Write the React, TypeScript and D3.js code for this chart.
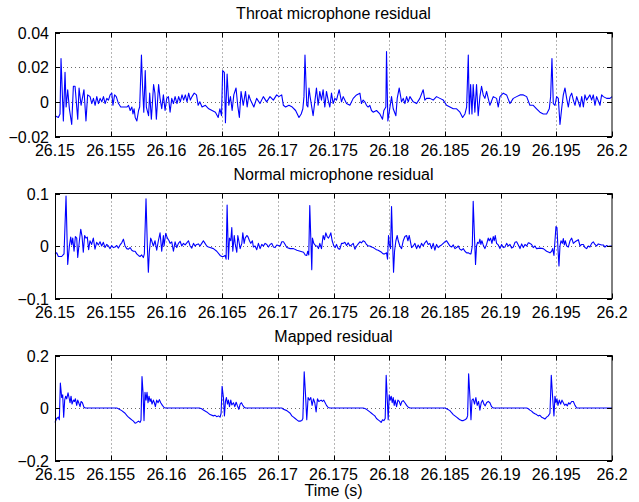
import * as d3 from "d3";

type Pt = [number, number]; // [ms after 26.15 s, residual]

const T0 = 26.15;

const xTicks = [26.15, 26.155, 26.16, 26.165, 26.17, 26.175, 26.18, 26.185, 26.19, 26.195, 26.2];
const xTickLabels = ["26.15", "26.155", "26.16", "26.165", "26.17", "26.175", "26.18", "26.185", "26.19", "26.195", "26.2"];

const titles = ["Throat microphone residual", "Normal microphone residual", "Mapped residual"];

const throatTicks = [-0.02, 0, 0.02, 0.04];
const throatTickLabels = ["\u22120.02", "0", "0.02", "0.04"];
const normalTicks = [-0.1, 0, 0.1];
const normalTickLabels = ["\u22120.1", "0", "0.1"];
const mappedTicks = [-0.2, 0, 0.2];
const mappedTickLabels = ["\u22120.2", "0", "0.2"];

const throat: Pt[] = [
  [0,-0.008],[0.3,-0.009],[0.45,-0.007],[0.54,0.025],[0.75,-0.011],[0.9,0.017],[1.0,-0.003],[1.14,0.007],[1.29,-0.004],[1.5,-0.013],
  [1.65,0.009],[1.8,0.009],[2.04,-0.01],[2.16,0.008],[2.34,-0.002],[2.6,0.007],[2.78,-0.011],[2.93,0.004],[3.15,0.003],[3.3,-0.001],
  [3.45,0.002],[3.6,-0.002],[3.75,0.003],[3.9,-0.001],[4.05,0.002],[4.2,0],[4.35,0.003],[4.5,-0.001],[4.65,0.002],[4.8,0.001],
  [4.95,0.004],[5.1,0.005],[5.2,-0.002],[5.35,0.004],[5.5,0.003],[5.7,-0.001],[5.9,-0.003],[6.2,-0.003],[6.45,-0.003],[6.6,-0.002],
  [6.75,-0.005],[6.9,-0.003],[7.0,-0.007],[7.1,-0.004],[7.2,-0.009],[7.35,-0.011],[7.5,-0.005],[7.6,-0.003],[7.76,0.027],[7.85,0.01],
  [7.97,-0.006],[8.1,0.018],[8.2,-0.003],[8.4,-0.008],[8.5,0.005],[8.65,-0.01],[8.85,0.01],[8.97,0.005],[9.1,-0.01],[9.3,0.01],
  [9.43,0.002],[9.58,-0.004],[9.73,0.004],[9.88,-0.005],[10.03,0.002],[10.18,0.003],[10.33,-0.006],[10.48,0.002],[10.63,-0.001],[10.78,0.003],
  [10.95,-0.001],[11.1,0.003],[11.25,0],[11.4,0.004],[11.55,0.001],[11.7,0.004],[11.85,0],[12.0,0.005],[12.15,0.001],[12.3,0.003],
  [12.5,0.005],[12.7,0.004],[12.85,-0.002],[13.0,0],[13.2,-0.003],[13.5,-0.002],[13.8,-0.004],[14.1,-0.005],[14.4,-0.006],[14.65,-0.009],
  [14.8,-0.004],[14.95,-0.008],[15.05,0.018],[15.2,0.017],[15.3,-0.012],[15.45,0.016],[15.6,-0.002],[15.75,0.003],[15.9,-0.005],[16.05,0.004],
  [16.25,0.008],[16.4,-0.002],[16.55,-0.009],[16.7,0.006],[16.9,-0.002],[17.1,0.006],[17.25,-0.003],[17.4,0.004],[17.55,0.001],[17.85,-0.003],
  [18.1,0.002],[18.4,-0.001],[18.7,0.003],[19.0,0],[19.3,0.003],[19.6,0.001],[19.9,0.004],[20.1,0.003],[20.35,0.004],[20.5,-0.002],
  [20.7,-0.003],[21.0,-0.002],[21.3,-0.003],[21.6,-0.005],[21.9,-0.009],[22.1,-0.007],[22.25,-0.004],[22.35,0.003],[22.44,0.027],[22.6,-0.002],
  [22.7,-0.003],[22.8,0.008],[22.9,0.003],[23.17,-0.008],[23.47,0.008],[23.62,-0.002],[23.77,0.006],[23.92,0.001],[24.07,0.007],[24.22,-0.003],
  [24.37,0.006],[24.52,0.001],[24.67,-0.003],[24.82,0.005],[24.97,-0.001],[25.12,0.002],[25.27,0.001],[25.51,0.007],[25.72,0],[25.87,0.003],
  [26.17,-0.001],[26.47,-0.002],[26.77,0.002],[27.07,0.004],[27.37,0.005],[27.51,-0.001],[27.66,0.001],[27.81,0],[27.96,-0.002],[28.11,-0.003],
  [28.26,-0.002],[28.41,-0.005],[28.56,-0.006],[28.86,-0.005],[29.16,-0.007],[29.4,-0.01],[29.52,-0.005],[29.7,-0.003],[29.76,0.029],[29.88,-0.011],
  [30.0,-0.006],[30.21,0.003],[30.36,-0.004],[30.6,-0.008],[30.72,0.002],[30.9,0.008],[31.11,0],[31.26,0.002],[31.41,-0.001],[31.56,0.003],
  [31.71,0],[31.86,0.003],[32.16,0],[32.46,-0.001],[32.75,0.002],[33.05,0.007],[33.2,0.001],[33.35,0.002],[33.65,0.002],[33.95,0.001],
  [34.25,0.003],[34.55,0.002],[34.85,0.001],[35.15,-0.002],[35.45,-0.003],[35.75,-0.004],[36.05,-0.004],[36.35,-0.006],[36.59,-0.009],[36.8,-0.007],
  [36.95,-0.003],[37.1,0.027],[37.19,-0.007],[37.31,0.01],[37.43,-0.007],[37.54,0.01],[37.69,-0.006],[37.84,0.01],[37.99,-0.008],[38.14,0.003],
  [38.29,0.009],[38.44,0.004],[38.59,0.002],[38.74,0.006],[39.04,-0.002],[39.34,0.003],[39.64,0.002],[39.79,-0.003],[39.94,0.003],[40.24,0.005],
  [40.54,0.004],[40.84,-0.001],[41.14,0.002],[41.44,0.003],[41.74,0.004],[42.04,0.004],[42.34,0.003],[42.63,-0.002],[42.93,-0.002],[43.23,-0.004],
  [43.53,-0.006],[43.83,-0.007],[44.13,-0.007],[44.37,-0.004],[44.49,0.003],[44.61,0.025],[44.73,-0.001],[44.88,-0.002],[45.03,0.003],[45.18,0.002],
  [45.33,-0.013],[45.48,-0.004],[45.63,0.004],[45.78,0.008],[45.93,0.002],[46.08,-0.003],[46.23,0.003],[46.38,0.005],[46.53,0.001],[46.68,-0.002],
  [46.83,0.003],[47.13,-0.003],[47.28,0.003],[47.43,-0.003],[47.57,0.004],[47.72,0.001],[48.02,0.004],[48.17,0.001],[48.32,0.004],[48.47,-0.002],
  [48.62,0.003],[48.92,-0.002],[49.07,0.004],[49.22,0.003],[49.52,0.002],[49.82,0.002],[50,0.003],
];

const normal: Pt[] = [
  [0,-0.015],[0.15,-0.013],[0.3,-0.02],[0.6,-0.02],[0.81,-0.015],[0.99,0.095],[1.14,-0.035],[1.29,0],[1.41,0.017],[1.5,0.002],
  [1.59,0.015],[1.71,-0.01],[1.83,0.018],[1.95,0.015],[2.04,-0.022],[2.19,0.01],[2.31,0.032],[2.43,0.018],[2.54,-0.012],[2.66,0.02],
  [2.78,0.015],[2.9,0.017],[3.02,-0.007],[3.14,0.01],[3.29,0.003],[3.44,0.015],[3.59,-0.006],[3.74,0.007],[3.89,0.002],[4.04,0.008],
  [4.19,0],[4.34,0.007],[4.49,-0.003],[4.64,0.003],[4.79,0],[4.94,-0.005],[5.09,0.001],[5.24,-0.003],[5.39,-0.002],[5.54,0.001],
  [5.69,-0.004],[5.84,0.002],[5.99,0.006],[6.14,0.013],[6.29,0],[6.44,-0.005],[6.59,-0.006],[6.74,-0.003],[6.89,-0.008],[7.04,-0.01],
  [7.19,-0.01],[7.34,-0.015],[7.49,-0.018],[7.63,-0.02],[7.78,-0.017],[7.93,-0.022],[8.02,-0.015],[8.17,0.09],[8.29,0],[8.38,-0.05],
  [8.47,-0.01],[8.59,0.015],[8.68,0.01],[8.83,0],[8.98,0.01],[9.13,-0.008],[9.28,0.01],[9.43,0.025],[9.52,0.005],[9.58,-0.01],
  [9.73,0.02],[9.79,0],[9.94,0.024],[10.09,0.015],[10.24,0.01],[10.33,0.005],[10.48,0.008],[10.63,-0.01],[10.78,0.008],[10.93,-0.003],
  [11.08,0.005],[11.23,0.009],[11.38,0],[11.53,0.005],[11.68,0.002],[11.83,0.006],[11.98,0.01],[12.13,0],[12.28,-0.004],[12.43,0.005],
  [12.57,0],[12.72,0.003],[12.87,0.004],[13.02,0],[13.17,0.005],[13.32,0.01],[13.47,0.005],[13.62,0],[13.77,-0.002],[13.92,-0.003],
  [14.22,-0.005],[14.52,-0.01],[14.82,-0.018],[14.97,-0.02],[15.12,-0.02],[15.27,-0.018],[15.36,-0.025],[15.45,0.078],[15.57,-0.025],[15.66,0.015],
  [15.78,0.01],[15.87,0.035],[15.96,-0.01],[16.09,0.02],[16.17,0.005],[16.32,-0.012],[16.41,0.02],[16.5,0.01],[16.62,-0.005],[16.77,0.005],
  [16.86,0.025],[16.98,0.005],[17.07,0.015],[17.22,0.02],[17.31,0.018],[17.46,0.01],[17.57,0.005],[17.72,0.01],[17.81,-0.002],[17.96,0],
  [18.11,-0.007],[18.26,0.005],[18.41,-0.005],[18.56,0.003],[18.71,0],[18.86,0.005],[19.01,0.003],[19.16,-0.002],[19.31,0.003],[19.46,0.005],
  [19.61,-0.002],[19.76,-0.003],[19.91,0.002],[20.21,0],[20.36,0.008],[20.51,0.008],[20.66,0.003],[20.81,-0.003],[21.11,-0.005],[21.41,-0.005],
  [21.71,-0.008],[22.01,-0.01],[22.31,-0.012],[22.46,-0.017],[22.6,-0.018],[22.69,-0.01],[22.78,-0.017],[22.87,0.077],[23.05,-0.045],[23.11,0.015],
  [23.23,0.005],[23.41,0],[23.53,0],[23.65,-0.005],[23.77,0.005],[23.92,-0.005],[24.07,0.02],[24.19,0.012],[24.31,0.025],[24.43,0.018],
  [24.55,0.015],[24.67,0.02],[24.76,0.025],[24.88,0.01],[25.03,0],[25.15,-0.003],[25.27,0.003],[25.42,-0.005],[25.57,-0.006],[25.72,0.005],
  [25.87,0.005],[26.02,0.007],[26.17,0.001],[26.32,0.006],[26.47,0],[26.62,0.002],[26.77,0.005],[26.92,-0.006],[27.07,0],[27.22,0.004],
  [27.37,0.008],[27.51,0.006],[27.66,0.01],[27.81,0.008],[27.96,0.003],[28.11,0],[28.26,0],[28.41,-0.002],[28.56,-0.003],[28.71,-0.005],
  [28.86,-0.007],[29.01,-0.008],[29.16,-0.01],[29.31,-0.012],[29.46,-0.015],[29.61,-0.015],[29.76,-0.013],[29.85,-0.025],[29.94,0.02],[30.0,0.005],
  [30.12,-0.005],[30.21,0.075],[30.3,0.01],[30.39,-0.05],[30.48,-0.01],[30.6,0.01],[30.72,0.02],[30.81,0.01],[30.96,0],[31.11,-0.005],
  [31.26,0.01],[31.41,0.018],[31.56,0.02],[31.68,0.01],[31.8,0.02],[31.92,0.007],[32.01,-0.003],[32.16,0],[32.31,0.005],[32.46,-0.005],
  [32.6,0.002],[32.75,-0.004],[32.9,0.005],[33.05,0],[33.2,0.006],[33.35,0.01],[33.5,0.003],[33.65,0.005],[33.8,-0.005],[33.95,0.005],
  [34.1,-0.008],[34.25,0.003],[34.4,-0.003],[34.55,0],[34.7,0.002],[34.85,0.005],[35.0,0.008],[35.15,0.01],[35.3,0.005],[35.45,0],
  [35.6,-0.002],[35.75,0.002],[35.9,-0.005],[36.05,-0.003],[36.2,0],[36.35,-0.006],[36.5,-0.008],[36.65,-0.005],[36.8,-0.01],[36.95,-0.013],
  [37.1,-0.013],[37.25,-0.015],[37.34,-0.015],[37.46,0],[37.54,0.085],[37.66,0.015],[37.75,-0.035],[37.84,0],[37.93,0.007],[38.05,0.005],
  [38.14,0.013],[38.23,0.003],[38.32,0.01],[38.44,0.002],[38.59,-0.005],[38.74,0.003],[38.89,0.015],[38.98,0.01],[39.1,0.015],[39.22,0.005],
  [39.34,0.018],[39.43,0.01],[39.52,0.02],[39.64,0.005],[39.79,0.002],[39.94,-0.005],[40.09,0.003],[40.24,-0.003],[40.39,-0.002],[40.54,0.005],
  [40.69,0],[40.84,0.003],[40.99,-0.004],[41.14,-0.002],[41.29,0.007],[41.44,0.008],[41.59,0.002],[41.74,-0.005],[41.89,0.004],[42.04,-0.003],
  [42.19,0.003],[42.34,0],[42.49,0.006],[42.63,0.005],[42.78,0.003],[42.93,-0.003],[43.08,0],[43.23,-0.005],[43.53,-0.004],[43.83,-0.005],
  [44.13,-0.01],[44.43,-0.013],[44.58,-0.01],[44.67,-0.005],[44.79,-0.018],[44.88,0.01],[44.97,0.037],[45.06,0.035],[45.15,-0.005],[45.24,-0.038],
  [45.33,0],[45.42,0.01],[45.54,0.005],[45.63,0.014],[45.72,0.002],[45.81,0.01],[45.93,0],[46.08,-0.002],[46.23,0.01],[46.38,0.015],
  [46.53,0.005],[46.68,0.008],[46.83,0.01],[46.98,0.012],[47.13,0],[47.28,0.003],[47.43,0.003],[47.57,-0.003],[47.72,-0.005],[47.87,0],
  [48.02,-0.002],[48.17,0.005],[48.32,0.008],[48.47,0.003],[48.62,0],[48.77,0.004],[48.92,0.003],[49.07,0.002],[49.22,0.002],[49.37,-0.002],
  [49.52,0.001],[49.67,-0.001],[49.82,0],[50,0],
];

const mapped: Pt[] = [
  [0,-0.055],[0.15,-0.04],[0.3,-0.035],[0.39,-0.045],[0.48,0.095],[0.6,0.04],[0.69,0.05],[0.78,-0.035],[0.87,0.03],[0.96,0.045],
  [1.05,0.035],[1.17,0.058],[1.26,0.04],[1.35,0.02],[1.44,0.045],[1.53,0.015],[1.65,0.03],[1.74,0.025],[1.83,0.035],[1.95,0.01],
  [2.04,0.03],[2.13,0.02],[2.25,0.005],[2.34,0.025],[2.46,0.02],[2.6,0.003],[2.72,0],[5.54,0],[5.69,-0.003],[5.99,-0.01],
  [6.29,-0.02],[6.44,-0.028],[6.59,-0.035],[6.74,-0.04],[6.89,-0.045],[7.04,-0.05],[7.19,-0.058],[7.34,-0.055],[7.49,-0.05],[7.63,-0.055],
  [7.72,-0.047],[7.81,0.12],[7.9,0.06],[7.99,-0.048],[8.08,0.06],[8.17,0.03],[8.26,0.06],[8.35,0.02],[8.44,0.045],[8.53,0.025],
  [8.62,0.035],[8.71,0.015],[8.83,0.03],[8.92,0.02],[9.01,0.005],[9.13,0.03],[9.25,0.02],[9.37,0.032],[9.49,0.02],[9.64,0.01],
  [9.79,0.002],[9.91,0],[12.96,0],[13.17,-0.003],[13.32,-0.008],[13.62,-0.015],[13.92,-0.025],[14.22,-0.03],[14.37,-0.028],[14.52,-0.033],
  [14.67,-0.03],[14.82,-0.035],[14.91,-0.02],[15.0,0.083],[15.12,0.04],[15.21,-0.03],[15.3,0.025],[15.39,0.04],[15.48,0.015],[15.57,0.03],
  [15.66,0.005],[15.78,0.03],[15.87,0.012],[16.02,0.02],[16.14,0.005],[16.26,0.022],[16.38,0.008],[16.5,-0.005],[16.62,0.015],[16.74,0.02],
  [16.86,0.01],[16.98,0.003],[17.1,0],[20.36,0],[20.51,-0.005],[20.81,-0.01],[21.11,-0.02],[21.26,-0.03],[21.41,-0.035],[21.56,-0.04],
  [21.71,-0.045],[21.86,-0.05],[22.01,-0.05],[22.16,-0.048],[22.25,-0.04],[22.37,0.138],[22.49,0.05],[22.6,-0.045],[22.72,0.04],[22.84,0.03],
  [22.96,0.04],[23.08,0.01],[23.2,0.035],[23.32,0.02],[23.44,-0.015],[23.56,0.035],[23.68,0.025],[23.89,0.03],[24.01,0.025],[24.13,0.03],
  [24.25,0.02],[24.37,0.01],[24.52,0.002],[24.67,0],[27.66,0],[27.81,-0.002],[27.96,-0.005],[28.11,-0.01],[28.26,-0.015],[28.41,-0.02],
  [28.56,-0.025],[28.71,-0.03],[28.86,-0.04],[29.01,-0.045],[29.16,-0.05],[29.28,-0.055],[29.4,-0.045],[29.52,-0.048],[29.64,-0.04],[29.73,0.125],
  [29.82,0.04],[29.91,-0.045],[30.0,0.05],[30.09,0.03],[30.18,0.045],[30.27,0.02],[30.36,0.04],[30.45,0.01],[30.54,0.03],[30.66,0.005],
  [30.78,0.03],[30.9,0.025],[31.02,0.01],[31.14,0.025],[31.26,0.028],[31.41,0.02],[31.56,0.01],[31.71,0.003],[31.86,0],[35.0,0],
  [35.15,-0.003],[35.45,-0.01],[35.6,-0.018],[35.75,-0.025],[35.9,-0.03],[36.05,-0.035],[36.2,-0.04],[36.35,-0.045],[36.5,-0.048],[36.65,-0.048],
  [36.8,-0.045],[36.95,-0.04],[37.04,-0.03],[37.13,0.13],[37.25,0.04],[37.34,-0.045],[37.43,0.03],[37.54,0.035],[37.66,0.015],[37.78,0.04],
  [37.9,0.01],[38.02,0.025],[38.14,-0.008],[38.26,0.02],[38.38,0.03],[38.5,0.015],[38.62,0.008],[38.74,0.02],[38.89,0.025],[39.04,0.02],
  [39.19,0.005],[39.34,0],[42.34,0],[42.49,-0.003],[42.63,-0.008],[42.78,-0.012],[42.93,-0.018],[43.08,-0.022],[43.23,-0.025],[43.38,-0.03],
  [43.53,-0.028],[43.68,-0.035],[43.83,-0.038],[43.98,-0.042],[44.13,-0.035],[44.28,-0.03],[44.43,-0.02],[44.55,0.125],[44.67,0.04],[44.79,-0.03],
  [44.88,0.045],[44.97,0.02],[45.06,0.035],[45.15,0.01],[45.27,0.03],[45.39,0.015],[45.51,0.03],[45.63,0.02],[45.75,0.01],[45.87,0.015],
  [45.99,0.008],[46.11,0.02],[46.23,0.015],[46.38,0.025],[46.53,0.025],[46.68,0.01],[46.83,0],[50,0],
];

const width = 639;
const height = 502;
const left = 55;
const right = 612;
const font = "'Liberation Sans', Arial, Helvetica, sans-serif";
const fontSize = 16;

const panels = [
  { title: titles[0], data: throat, top: 32.5, bottom: 136.5, ticks: throatTicks, labels: throatTickLabels },
  { title: titles[1], data: normal, top: 193.5, bottom: 298.5, ticks: normalTicks, labels: normalTickLabels },
  { title: titles[2], data: mapped, top: 355.5, bottom: 460.5, ticks: mappedTicks, labels: mappedTickLabels },
];

function Panel({ p }: { p: (typeof panels)[number] }) {
  const x = d3.scaleLinear().domain([26.15, 26.2]).range([left, right]);
  const y = d3
    .scaleLinear()
    .domain([p.ticks[0], p.ticks[p.ticks.length - 1]])
    .range([p.bottom, p.top]);
  const line = d3
    .line<Pt>()
    .x((d) => x(T0 + d[0] / 1000))
    .y((d) => y(d[1]));
  const tickLen = 5;
  return (
    <g>
      <text x={(left + right) / 2} y={p.top - 13.5} textAnchor="middle" fontSize={fontSize}>
        {p.title}
      </text>
      {/* dotted grid */}
      {xTicks.slice(1, -1).map((t) => (
        <line key={"gx" + t} x1={Math.round(x(t)) + 0.5} x2={Math.round(x(t)) + 0.5} y1={p.top} y2={p.bottom}
          stroke="#444" strokeWidth={0.8} strokeDasharray="1,3" />
      ))}
      {p.ticks.slice(1, -1).map((t) => (
        <line key={"gy" + t} x1={left} x2={right} y1={Math.round(y(t)) + 0.5} y2={Math.round(y(t)) + 0.5}
          stroke="#444" strokeWidth={0.8} strokeDasharray="1,3" />
      ))}
      <path d={line(p.data) ?? ""} fill="none" stroke="#0000ff" strokeWidth={1.1} strokeLinejoin="round" />
      {/* inward ticks */}
      {xTicks.map((t) => {
        const xx = Math.round(x(t)) + 0.5;
        return (
          <g key={"tx" + t}>
            <line x1={xx} x2={xx} y1={p.bottom} y2={p.bottom - tickLen} stroke="#000" />
            <line x1={xx} x2={xx} y1={p.top} y2={p.top + tickLen} stroke="#000" />
          </g>
        );
      })}
      {p.ticks.map((t) => {
        const yy = Math.round(y(t)) + 0.5;
        return (
          <g key={"ty" + t}>
            <line x1={left} x2={left + tickLen} y1={yy} y2={yy} stroke="#000" />
            <line x1={right} x2={right - tickLen} y1={yy} y2={yy} stroke="#000" />
          </g>
        );
      })}
      <rect x={left + 0.5} y={p.top} width={right - left - 0.5} height={p.bottom - p.top} fill="none" stroke="#000" strokeWidth={1} />
      {xTicks.map((t, i) => (
        <text key={"lx" + t} x={x(t)} y={p.bottom + 19.5} textAnchor="middle" fontSize={fontSize}>
          {xTickLabels[i]}
        </text>
      ))}
      {p.ticks.map((t, i) => (
        <text key={"ly" + t} x={left - 6} y={y(t) + 6} textAnchor="end" fontSize={fontSize}>
          {p.labels[i]}
        </text>
      ))}
    </g>
  );
}

export default function App() {
  return (
    <svg
      width={width}
      height={height}
      viewBox={`0 0 ${width} ${height}`}
      style={{ position: "absolute", left: 0, top: 0, background: "#fff" }}
      fontFamily={font}
      fill="#000"
    >
      <rect width={width} height={height} fill="#fff" />
      {panels.map((p) => (
        <Panel key={p.title} p={p} />
      ))}
      <text x={(left + right) / 2} y={496} textAnchor="middle" fontSize={fontSize}>
        Time (s)
      </text>
    </svg>
  );
}
